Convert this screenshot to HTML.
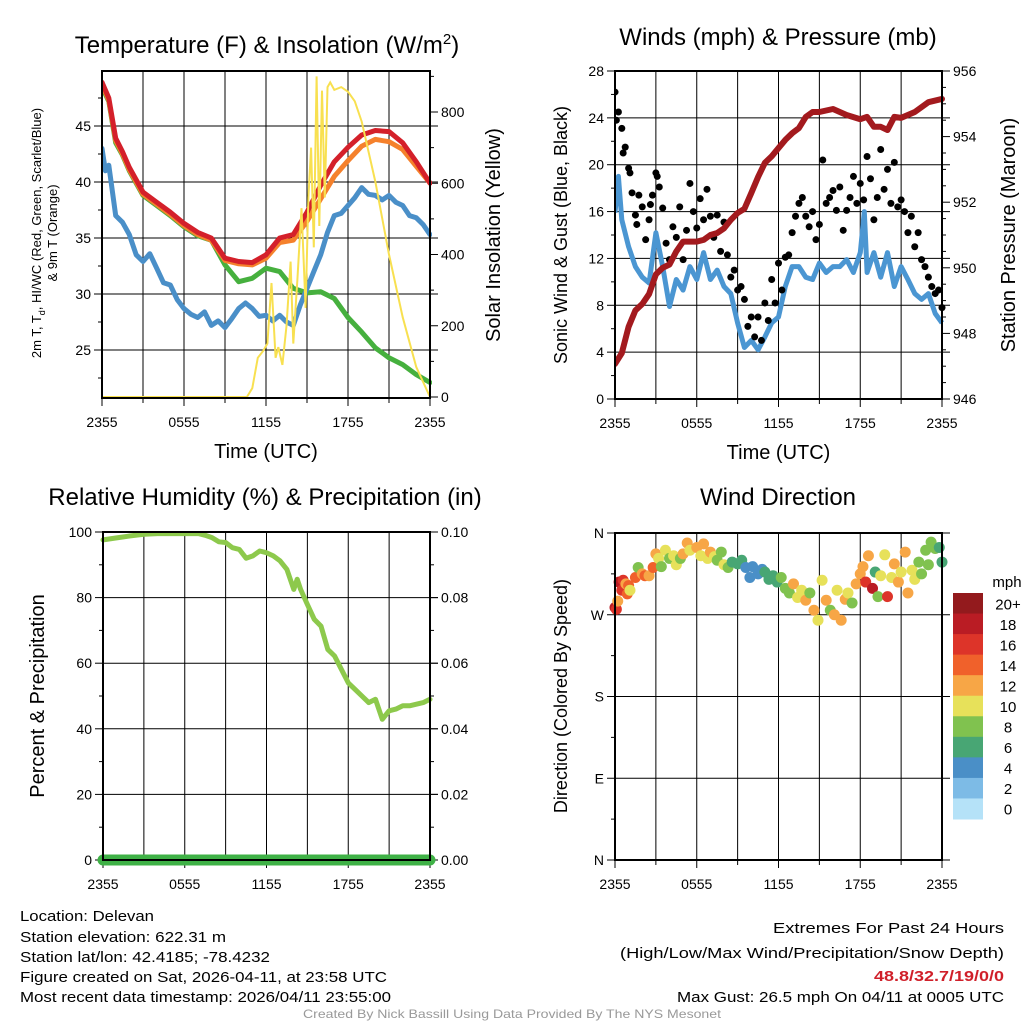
<!DOCTYPE html>
<html><head><meta charset="utf-8"><style>
html,body{margin:0;padding:0;background:#fff}
svg{display:block;font-family:"Liberation Sans",sans-serif}
</style></head><body>
<svg id="fig" width="1024" height="1024" viewBox="0 0 1024 1024" xmlns="http://www.w3.org/2000/svg">
<rect width="1024" height="1024" fill="#fff"/>
<g id="p1"></g>
<g id="p2"></g>
<g id="p3"></g>
<g id="p4"></g>
<g font-size="15" fill="#000">
<text x="20" y="921" textLength="134" lengthAdjust="spacingAndGlyphs">Location: Delevan</text>
<text x="20" y="942" textLength="206" lengthAdjust="spacingAndGlyphs">Station elevation: 622.31 m</text>
<text x="20" y="962" textLength="250" lengthAdjust="spacingAndGlyphs">Station lat/lon: 42.4185; -78.4232</text>
<text x="20" y="982" textLength="367" lengthAdjust="spacingAndGlyphs">Figure created on Sat, 2026-04-11, at 23:58 UTC</text>
<text x="20" y="1002" textLength="371" lengthAdjust="spacingAndGlyphs">Most recent data timestamp: 2026/04/11 23:55:00</text>
<text x="1004" y="933" text-anchor="end" textLength="231" lengthAdjust="spacingAndGlyphs">Extremes For Past 24 Hours</text>
<text x="1004" y="958" text-anchor="end" textLength="384" lengthAdjust="spacingAndGlyphs">(High/Low/Max Wind/Precipitation/Snow Depth)</text>
<text x="1004" y="981" text-anchor="end" font-weight="bold" fill="#d0202a" textLength="130" lengthAdjust="spacingAndGlyphs">48.8/32.7/19/0/0</text>
<text x="1004" y="1002" text-anchor="end" textLength="327" lengthAdjust="spacingAndGlyphs">Max Gust: 26.5 mph On 04/11 at 0005 UTC</text>
<text x="512" y="1018" text-anchor="middle" font-size="12" fill="#999" textLength="418" lengthAdjust="spacingAndGlyphs">Created By Nick Bassill Using Data Provided By The NYS Mesonet</text>
</g>
</svg>
<script>
// ---- data ----
const hours = [0,0.5,1,1.5,2,3,4,5,6,7,8,9,10,11,12,13,14,15,16,17,18,19,20,21,22,23,24];
const tempRed = [48.9,47.5,43.9,42.7,41.3,39.1,38.2,37.3,36.3,35.5,35.0,33.2,32.9,32.8,33.5,35.0,35.3,37.3,39.7,41.8,43.1,44.2,44.6,44.5,43.5,41.8,39.9];
const temp9m = [48.7,47.3,43.7,42.5,41.1,38.9,38.0,37.1,36.1,35.3,34.8,33.0,32.7,32.6,33.2,34.6,34.8,36.5,38.5,40.5,41.9,43.2,43.8,43.6,42.9,41.4,39.9];
const heatIdx = [48.5,47.2,43.5,42.4,41.0,38.8,37.9,37.0,36.0,35.2,34.8,32.6,31.1,31.4,32.3,32.0,30.5,30.1,30.2,29.6,27.9,26.6,25.2,24.3,23.7,22.8,22.1];
const dewHours = [0,0.25,0.5,1,1.5,2,2.5,3,3.5,4,4.5,5,5.5,6,6.5,7,7.5,8,8.5,9,9.5,10,10.5,11,11.5,12,12.5,13,13.5,14,14.5,15,15.5,16,16.5,17,17.5,18,18.5,19,19.5,20,20.5,21,21.5,22,22.5,23,23.5,24];
const dewPt = [43.0,41.0,41.5,37.0,36.4,35.3,33.5,32.9,33.6,32.3,31.0,30.8,29.5,28.7,28.2,27.9,28.4,27.2,27.6,27.0,27.8,28.7,29.2,28.7,28.0,28.1,27.6,28.1,27.5,27.2,29.0,30.5,32.0,33.5,35.5,37.0,37.2,37.9,38.6,39.5,38.9,38.8,38.4,38.8,38.2,37.9,37.0,36.8,36.2,35.3];
const solHours = [0,10.6,11.0,11.4,11.8,12.1,12.4,12.7,12.9,13.2,13.5,13.8,14.0,14.3,14.6,14.9,15.1,15.3,15.5,15.7,15.9,16.1,16.3,16.5,16.7,17.0,17.5,18.0,18.5,19.0,20.0,21.0,22.0,23.0,24.0];
const solar = [0,0,25,110,130,150,320,110,140,90,200,380,150,330,530,250,560,700,420,900,480,860,560,870,883,862,870,857,830,773,605,400,224,84,0];
const windHours = [0,0.25,0.5,1,1.5,2,2.5,3,3.5,4,4.5,5,5.5,6,6.5,7,7.5,8,8.5,9,9.5,10,10.5,11,11.5,12,12.5,13,13.5,14,14.5,15,15.5,16,16.5,17,17.5,18,18.3,18.5,19,19.5,20,20.5,21,21.5,22,22.5,23,23.5,24];
const windSpd = [15.9,19.0,15.3,13.0,11.3,10.4,9.9,14.2,11.3,7.9,10.2,9.3,11.3,10.2,12.5,10.2,11.0,9.6,9.0,6.5,4.4,5.0,4.2,5.3,6.5,7.0,9.6,11.3,11.3,10.4,10.2,11.6,10.8,11.3,11.3,11.9,10.8,12.5,16.0,10.8,12.5,10.4,12.5,9.6,11.3,10.2,9.0,8.5,9.0,7.3,6.5];
const gustHours = [0,0.1,0.25,0.5,0.6,0.75,1,1.1,1.25,1.5,1.6,1.75,2,2.25,2.5,2.6,2.75,3,3.1,3.25,3.5,3.75,4,4.25,4.5,4.75,5,5.25,5.5,5.75,6,6.25,6.5,6.75,7,7.25,7.5,7.75,8,8.25,8.5,8.75,9,9.25,9.5,9.75,10,10.25,10.5,10.75,11,11.25,11.5,11.75,12,12.25,12.5,12.75,13,13.25,13.5,13.75,14,14.25,14.5,14.75,15,15.25,15.5,15.75,16,16.25,16.5,16.75,17,17.25,17.5,17.75,18,18.25,18.5,18.75,19,19.25,19.5,19.75,20,20.25,20.5,20.75,21,21.25,21.5,21.75,22,22.25,22.5,22.75,23,23.25,23.5,23.75,24];
const gust = [26.2,23.8,24.5,23.1,21.0,21.5,19.7,19.3,17.6,15.7,14.9,17.4,16.4,13.6,15.3,16.6,17.4,19.3,19.0,18.1,16.3,13.3,11.9,14.7,13.8,16.4,11.9,14.4,18.4,16.0,14.6,17.1,15.3,17.9,15.6,13.8,15.7,12.6,15.1,12.3,10.4,11.0,9.3,9.6,8.5,6.2,7.0,5.3,7.0,5.0,8.2,6.7,10.2,8.2,11.6,9.3,12.1,12.3,14.2,15.6,16.7,17.2,15.6,14.7,16.0,13.6,14.9,20.4,16.7,17.2,17.8,16.1,18.1,14.4,16.1,17.2,19.0,16.7,18.4,17.0,20.7,18.8,15.3,17.2,21.3,17.9,19.6,16.7,20.2,16.4,17.0,16.0,14.2,15.6,13.0,14.2,11.9,11.3,10.4,9.6,9.0,9.3,7.8];
const presHours = [0,0.5,1,1.5,2,2.5,3,3.5,4,4.5,5,5.5,6,6.5,7,7.5,8,8.5,9,9.5,10,10.5,11,11.5,12,12.5,13,13.5,14,14.5,15,16,17,18,18.5,19,19.5,20,20.5,21,22,23,24];
const pressure = [947.07,947.4,948.2,948.7,948.9,949.2,949.8,950.0,950.1,950.5,950.8,950.8,950.8,950.85,951.0,951.06,951.2,951.46,951.67,951.8,952.28,952.77,953.2,953.4,953.65,953.9,954.1,954.26,954.6,954.75,954.75,954.84,954.66,954.53,954.6,954.3,954.3,954.2,954.6,954.57,954.75,955.05,955.15];
const rhHours = [0,1,2,3,4,5,6,7,7.5,8,8.5,9,9.5,10,10.5,11,11.5,12,12.5,13,13.5,14,14.25,14.5,15,15.5,16,16.5,17,17.5,18,18.5,19,19.5,20,20.5,21,21.5,22,22.5,23,23.5,24];
const rh = [97.6,98.2,98.8,99.3,99.5,99.5,99.5,99.5,99.0,98.3,97.0,96.8,95.2,94.7,92.0,92.7,94.2,93.7,92.7,91.2,88.6,82.5,85.6,82.5,77.9,73.4,71.3,64.2,62.2,58.1,54.0,52.0,50.0,48.0,49.0,42.9,45.5,46.0,47.0,47.0,47.5,48.0,49.0];
const precipHours = [0,24];
const precip = [0,0];
const dirHours = [0,0.1,0.2,0.3,0.5,0.6,0.8,0.9,1,1.1,1.5,1.7,2,2.2,2.5,2.8,3,3.2,3.4,3.7,4,4.3,4.5,4.8,5,5.3,5.5,6,6.3,6.5,6.8,7,7.3,7.5,7.8,8,8.3,8.6,9,9.3,9.6,9.9,10.1,10.5,10.8,11,11.3,11.6,11.9,12.2,12.5,12.8,13.1,13.4,13.7,14,14.3,14.6,14.9,15.2,15.5,15.8,16.1,16.3,16.6,16.9,17.1,17.4,17.7,18,18.2,18.4,18.6,18.9,19.1,19.3,19.5,19.8,20,20.3,20.5,20.8,21,21.3,21.5,21.8,22,22.3,22.5,22.8,23,23.2,23.5,23.8,24];
const dirDeg = [278,276,285,306,297,308,304,293,302,297,311,322,315,313,313,322,337,332,323,341,332,335,325,332,337,349,341,344,335,348,332,339,334,330,339,325,322,328,326,330,322,311,323,315,320,317,309,313,306,311,299,294,304,289,297,286,294,275,264,308,286,275,270,297,264,287,294,283,304,315,323,306,335,299,317,290,313,336,290,311,326,306,317,339,294,319,309,328,315,341,325,350,343,344,328];
const dirSpd = [18,17,12,18,16,17,13,15,14,10,14,9,12,14,12,15,12,10,8,10,8,10,10,8,12,12,10,12,10,12,10,12,10,8,8,10,8,6,6,6,4,4,4,4,4,6,6,6,6,8,8,8,12,10,10,12,8,12,10,10,12,8,12,10,12,12,10,8,12,12,12,16,12,18,6,8,10,10,16,10,12,12,10,12,12,10,10,8,8,8,8,8,8,6,6];
const xTickLabels = ["2355","0555","1155","1755","2355"];
const speedLabels = ["20+","18","16","14","12","10","8","6","4","2","0"];
const speedColors = ["#931a1d","#ba1c24","#dd3429","#f0612b","#f7a646","#e7e15a","#80c24f","#48a674","#4a8fc7","#7dbbe6","#b5e2f8"];

// ---- helpers ----
const NS="http://www.w3.org/2000/svg";
function mk(parent,tag,attrs,text){const e=document.createElementNS(NS,tag);for(const k in attrs)e.setAttribute(k,attrs[k]);if(text!==undefined)e.textContent=text;parent.appendChild(e);return e;}
function lin(d0,d1,r0,r1){return v=>r0+(v-d0)*(r1-r0)/(d1-d0);}
function pathD(xs,ys,fx,fy){return xs.map((x,i)=>(i?"L":"M")+fx(x).toFixed(1)+","+fy(ys[i]).toFixed(1)).join("");}

function frame(g,L,R,T,B,fx,opt){
  for(let h=0;h<=24;h+=3){const x=fx(h);const l=mk(g,"line",{x1:x,x2:x,y1:T,y2:B+(h%6==0?8:5),stroke:"#000","stroke-width":1});
    
    }
  xTickLabels.forEach((s,i)=>{const t=mk(g,"text",{x:fx(i*6),y:B+29,"text-anchor":"middle","font-size":14},s);
    
    });
  if(opt.timeLabel){const t=mk(g,"text",{x:(L+R)/2,y:B+60,"text-anchor":"middle","font-size":20},"Time (UTC)");
    
    }
}
function yAxis(g,L,R,T,B,fy,ticks,labels,minors,grid,side){
  const ax= side=="left"?L:R, dir= side=="left"?-1:1;
  ticks.forEach((v,i)=>{const y=fy(v);
    if(grid){const gl=mk(g,"line",{x1:L,x2:R+8,y1:y,y2:y,stroke:"#000","stroke-width":1});
      
      }
    mk(g,"line",{x1:ax,x2:ax+dir*8,y1:y,y2:y,stroke:"#000","stroke-width":1});
    const t=mk(g,"text",{x:ax+dir*11,y:y+5,"text-anchor":side=="left"?"end":"start","font-size":14},labels[i]);
    
    });
  minors.forEach(v=>{const y=fy(v);mk(g,"line",{x1:ax,x2:ax+dir*4,y1:y,y2:y,stroke:"#000","stroke-width":1});});
}
function border(g,L,R,T,B){const r=mk(g,"rect",{x:L,y:T,width:R-L,height:B-T,fill:"none",stroke:"#000","stroke-width":2});
  
  }
function label(g,x,y,s,size,rot,name,extra){const a={x:x,y:y,"text-anchor":"middle","font-size":size};if(rot)a.transform=`rotate(-90 ${x} ${y})`;Object.assign(a,extra||{});const t=mk(g,"text",a,s);
  
  return t;}
function range(a,b,s){const r=[];for(let v=a;v<=b+1e-9;v+=s)r.push(+v.toFixed(4));return r;}

// ---- Panel 1 ----
(function(){
  const g=document.getElementById("p1");const L=102,R=430,T=71,B=398;
  const fx=lin(0,24,L,R), fy=lin(25,45,350,126), fs=lin(0,800,397,112);
  frame(g,L,R,T,B,fx,{timeLabel:true});
  yAxis(g,L,R,T,B,fy,[25,30,35,40,45],["25","30","35","40","45"],range(22.5,47.5,5),true,"left");
  yAxis(g,L,R,T,B,fs,[0,200,400,600,800],["0","200","400","600","800"],range(100,900,200),false,"right");
  const series=[[hours,heatIdx,"#46b03e","heat-index-line"],[hours,temp9m,"#f5812c","temp-9m-line"],[hours,tempRed,"#d4202a","temp-2m-line"],[dewHours,dewPt,"#4a8fc8","dewpoint-line"]];
  const cp=mk(g,"clipPath",{id:"c1"});mk(cp,"rect",{x:L,y:T,width:R-L+2,height:B-T+3});
  const pg=mk(g,"g",{"clip-path":"url(#c1)"});
  series.forEach(s=>{const p=mk(pg,"path",{d:pathD(s[0],s[1],fx,fy),fill:"none",stroke:s[2],"stroke-width":5,"stroke-linejoin":"round","stroke-linecap":"round"});
    
    });
  const sp=mk(pg,"path",{d:pathD(solHours,solar,fx,fs),fill:"none",stroke:"#f8e050","stroke-width":2});
  
  
  border(g,L,R,T,B);
  const tt=label(g,267,53,"",24,false,"temperature-title");
  tt.innerHTML='Temperature (F) &amp; Insolation (W/m<tspan dy="-9" font-size="15">2</tspan><tspan dy="9">)</tspan>';
  const yl=label(g,0,0,"",13,false,"left-y-axis-title");
  yl.setAttribute("transform","translate(41,233) rotate(-90)");
  yl.innerHTML='2m T, T<tspan dy="4" font-size="9">d</tspan><tspan dy="-4">, HI/WC (Red, Green, Scarlet/Blue)</tspan>';
  const y2=label(g,0,0,"& 9m T (Orange)",13,false,"left-y-axis-title-2");
  y2.setAttribute("transform","translate(57,233) rotate(-90)");
  label(g,500,235,"Solar Insolation (Yellow)",20,true,"right-y-axis-title");
})();

// ---- Panel 2 ----
(function(){
  const g=document.getElementById("p2");const L=615,R=942,T=71,B=399;
  const fx=lin(0,24,L,R), fy=lin(0,28,B,T), fp=lin(946,956,B,T);
  frame(g,L,R,T,B,fx,{timeLabel:true});
  yAxis(g,L,R,T,B,fy,range(0,28,4),range(0,28,4).map(String),range(2,26,4),true,"left");
  yAxis(g,L,R,T,B,fp,range(946,956,2),range(946,956,2).map(String),range(946.5,955.5,0.5).filter(v=>v%2!=0),false,"right");
  const cp=mk(g,"clipPath",{id:"c2"});mk(cp,"rect",{x:L,y:T-4,width:R-L+4,height:B-T+4});
  const pg=mk(g,"g",{"clip-path":"url(#c2)"});
  const w=mk(pg,"path",{d:pathD(windHours,windSpd,fx,fy),fill:"none",stroke:"#4b96d2","stroke-width":5,"stroke-linejoin":"round"});
  
  
  gustHours.forEach((h,i)=>{const c=mk(pg,"circle",{cx:fx(h),cy:fy(gust[i]),r:3.5,fill:"#000"});
    
    });
  const p=mk(pg,"path",{d:pathD(presHours,pressure,fx,fp),fill:"none",stroke:"#a31a1e","stroke-width":6,"stroke-linejoin":"round","stroke-linecap":"round"});
  
  
  border(g,L,R,T,B);
  label(g,778,45,"Winds (mph) & Pressure (mb)",24,false,"winds-title");
  label(g,567,235,"Sonic Wind & Gust (Blue, Black)",18,true,"left-y-axis-title");
  label(g,1015,235,"Station Pressure (Maroon)",20,true,"right-y-axis-title");
})();

// ---- Panel 3 ----
(function(){
  const g=document.getElementById("p3");const L=103,R=430,T=532,B=860;
  const fx=lin(0,24,L,R), fy=lin(0,100,B,T), fq=lin(0,0.1,B,T);
  frame(g,L,R,T,B,fx,{timeLabel:false});
  yAxis(g,L,R,T,B,fy,range(0,100,20),range(0,100,20).map(String),range(10,90,20),true,"left");
  const pt=range(0,0.1,0.02);
  yAxis(g,L,R,T,B,fq,pt,pt.map(v=>v.toFixed(2)),range(0.01,0.09,0.01).filter((v,i)=>i%2==0),false,"right");
  const r=mk(g,"path",{d:pathD(rhHours,rh,fx,fy),fill:"none",stroke:"#8dc94c","stroke-width":5,"stroke-linejoin":"round","stroke-linecap":"round"});
  
  
  const pp=mk(g,"path",{d:pathD(precipHours,precip,fx,fq),fill:"none",stroke:"#3fb146","stroke-width":11,"stroke-linecap":"round"});
  
  
  border(g,L,R,T,B);
  mk(g,"line",{x1:L,x2:R,y1:B,y2:B,stroke:"#000","stroke-width":2});
  label(g,265,505,"Relative Humidity (%) & Precipitation (in)",24,false,"humidity-title");
  label(g,44,696,"Percent & Precipitation",20,true,"left-y-axis-title");
})();

// ---- Panel 4 ----
(function(){
  const g=document.getElementById("p4");const L=615,R=942,T=533,B=860;
  const fx=lin(0,24,L,R), fy=lin(0,360,B,T);
  frame(g,L,R,T,B,fx,{timeLabel:false});
  const dt=[0,90,180,270,360], dl=["N","E","S","W","N"];
  yAxis(g,L,R,T,B,fy,dt,dl,range(45,315,90),true,"left");
  dirHours.forEach((h,i)=>{const k=Math.max(0,Math.min(10,10-Math.floor(dirSpd[i]/2)));
    const c=mk(g,"circle",{cx:fx(h),cy:fy(dirDeg[i]),r:5.5,fill:speedColors[k]});
    
    });
  border(g,L,R,T,B);
  label(g,778,505,"Wind Direction",24,false,"wind-direction-title");
  label(g,567,696,"Direction (Colored By Speed)",18,true,"left-y-axis-title");
  const cb=mk(g,"g",{});
  
  
  const bh=(819-593)/11;
  speedLabels.forEach((s,i)=>{const r=mk(cb,"rect",{x:953,y:593+i*bh,width:30,height:bh+0.5,fill:speedColors[i]});
    
    
    const t=mk(cb,"text",{x:1008,y:593+i*bh+bh/2+6,"text-anchor":"middle","font-size":15},s);
    
    });
  label(cb,1007,587,"mph",15,false,"colorbar-title");
})();
</script>
</body></html>
